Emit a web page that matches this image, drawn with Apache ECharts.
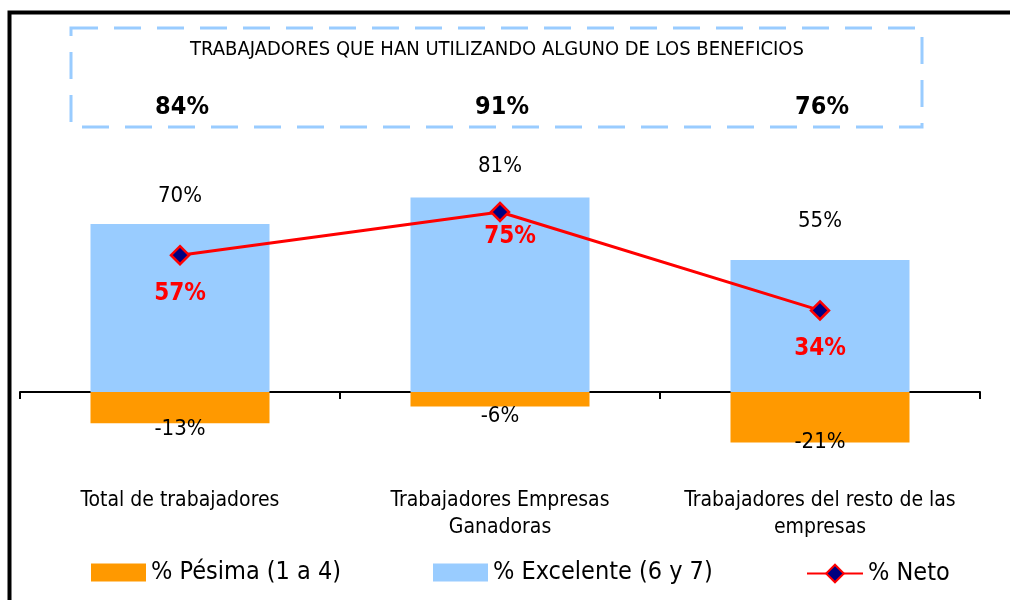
<!DOCTYPE html>
<html>
<head>
<meta charset="utf-8">
<script src="https://cdn.jsdelivr.net/npm/echarts@6/dist/echarts.min.js"></script>
<style>
html,body{margin:0;padding:0;background:#fff;}
#chart{width:1010px;height:600px;}
</style>
</head>
<body>
<div id="chart"></div>
<script>
// ---- data ----
const categories = ['Total de trabajadores', 'Trabajadores Empresas\nGanadoras', 'Trabajadores del resto de las\nempresas'];
const pesima = [-13, -6, -21];
const excelente = [70, 81, 55];
const neto = [57, 75, 34];
const beneficios = [84, 91, 76];
const seriesNames = ['% Pésima (1 a 4)', '% Excelente (6 y 7)', '% Neto'];
const boxTitle = 'TRABAJADORES QUE HAN UTILIZANDO ALGUNO DE LOS BENEFICIOS';

// ---- styling ----
const FONT = '"Liberation Sans Narrow", "DejaVu Sans Condensed", sans-serif';
const excLabelDist = [17, 20, 28];
const pesLabelDist = [-5, -1, -11];
const netoLabelOffset = [[0, 16], [10, 3], [0, 16]];

const chart = echarts.init(document.getElementById('chart'), null, {renderer: 'canvas'});

const legendText = {fontFamily: FONT, fontSize: 25, color: '#000'};
const option = {
  animation: false,
  backgroundColor: '#ffffff',
  grid: {left: 20, right: 30, top: 80, height: 384, containLabel: false, outerBoundsMode: 'none'},
  legend: [
    {data: [seriesNames[0]], left: 86, top: 555, itemWidth: 55, itemHeight: 18, itemGap: 0, icon: 'rect', textStyle: legendText},
    {data: [seriesNames[1]], left: 428, top: 555, itemWidth: 55, itemHeight: 18, itemGap: 0, icon: 'rect', textStyle: legendText},
    {data: [seriesNames[2]], left: 801, top: 556, itemWidth: 56, itemHeight: 22, itemGap: 0, textStyle: legendText}
  ],
  xAxis: {
    type: 'category',
    data: categories,
    axisLine: {onZero: true, lineStyle: {color: '#000', width: 2}},
    axisTick: {show: true, length: 7, lineStyle: {color: '#000', width: 2}},
    axisLabel: {fontFamily: FONT, fontSize: 21, color: '#000', margin: 23, lineHeight: 27, interval: 0},
    splitLine: {show: false}
  },
  yAxis: {
    type: 'value', min: -30, max: 130, interval: 10, show: false,
    splitLine: {show: false}
  },
  series: [
    {
      name: seriesNames[0], type: 'bar', barWidth: 179, barGap: '-100%',
      itemStyle: {color: '#FF9900'},
      data: pesima.map((v, i) => ({value: v, label: {distance: pesLabelDist[i]}})),
      label: {show: true, position: 'bottom', formatter: p => p.value + '%',
        fontFamily: FONT, fontSize: 22, color: '#000'},
      z: 2
    },
    {
      name: seriesNames[1], type: 'bar', barWidth: 179, barGap: '-100%',
      itemStyle: {color: '#99CCFF'},
      data: excelente.map((v, i) => ({value: v, label: {distance: excLabelDist[i]}})),
      label: {show: true, position: 'top', formatter: p => p.value + '%',
        fontFamily: FONT, fontSize: 22, color: '#000'},
      z: 2
    },
    {
      name: seriesNames[2], type: 'line',
      symbol: 'diamond', symbolSize: 18,
      lineStyle: {color: '#FF0000', width: 3},
      itemStyle: {color: '#000080', borderColor: '#FF0000', borderWidth: 2.5},
      data: neto.map((v, i) => ({value: v, label: {offset: netoLabelOffset[i]}})),
      label: {show: true, position: 'bottom', distance: 0, formatter: p => p.value + '%',
        fontFamily: FONT, fontSize: 24, fontWeight: 'bold', color: '#FF0000'},
      z: 5
    }
  ]
};
chart.setOption(option);

// overlay: frame, dashed box, title and benefit percentages
const graphics = [
  {type: 'rect', silent: true, shape: {x: 9.5, y: 12.5, width: 1100, height: 700},
   style: {fill: null, stroke: '#000', lineWidth: 4}},
  {type: 'rect', silent: true, shape: {x: 71, y: 28, width: 851, height: 99},
   style: {fill: null, stroke: '#99CCFF', lineWidth: 3, lineDash: [27, 16]}},
  {type: 'text', silent: true, x: 497, y: 50,
   style: {text: boxTitle, fontFamily: FONT, fontSize: 20, fill: '#000', align: 'center', verticalAlign: 'middle'}}
];
beneficios.forEach((v, i) => {
  const px = chart.convertToPixel({xAxisIndex: 0}, i);
  graphics.push({type: 'text', silent: true, x: px + 2, y: 107,
    style: {text: v + '%', fontFamily: FONT, fontSize: 25, fontWeight: 'bold', fill: '#000', align: 'center', verticalAlign: 'middle'}});
});
chart.setOption({graphic: graphics});
</script>
</body>
</html>
